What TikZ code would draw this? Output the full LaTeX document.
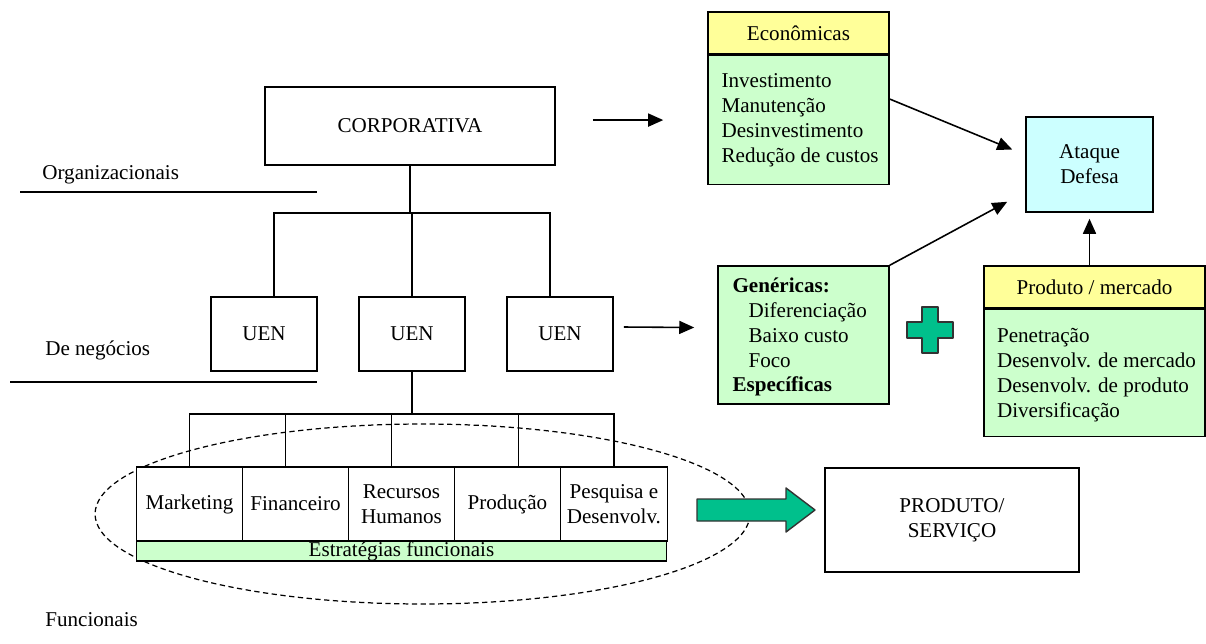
\documentclass[tikz,border=0pt]{standalone}
\usepackage{fontspec}
\setmainfont{Liberation Serif}
\usetikzlibrary{arrows, arrows.meta, positioning}
\definecolor{headyellow}{RGB}{255,255,153}
\definecolor{listgreen}{RGB}{204,255,204}
\definecolor{boxcyan}{RGB}{204,255,255}
\definecolor{seagreen}{RGB}{0,192,140}
\tikzset{
  box/.style={draw, line width=0.9pt, fill=white, inner sep=0pt, align=center},
  headbox/.style={box, fill=headyellow},
  listbox/.style={box, fill=listgreen},
  funcbox/.style={box, outer sep=0pt, minimum width=2.12cm, minimum height=1.48cm},
  listtext/.style={inner sep=0pt, align=left},
  level/.style={inner sep=0pt, anchor=west},
  link/.style={line width=1pt},
  pointer/.style={line width=0.9pt, -{Triangle[length=3mm,width=2.6mm]}},
  bigarrow/.style={draw=black!80, line width=0.8pt, fill=seagreen, line join=round}
}

\begin{document}
\begin{tikzpicture}[x=0.02cm, y=-0.02cm, font=\fontsize{12}{14.2}\selectfont]
        \useasboundingbox (0,0) rectangle (1206,643);

        \node[level] (org) at (42,175) {Organizacionais};
        \draw[link] (20,192) -- (317,192);
        \node[level] (neg) at (45,350) {De negócios};
        \draw[link] (10,382) -- (317,382);
        \node[level] (fun) at (45,620) {Funcionais};

        \node[box, minimum width=5.8cm, minimum height=1.56cm] (corp) at (410,126) {CORPORATIVA};
        \node[box, minimum width=2.12cm, minimum height=1.48cm] (uen1) at (264,334) {UEN};
        \node[box, minimum width=2.12cm, minimum height=1.48cm] (uen2) at (412,334) {UEN};
        \node[box, minimum width=2.12cm, minimum height=1.48cm] (uen3) at (560,334) {UEN};

        \coordinate (ubus) at (410,213);
        \draw[link] (corp.south) -- (ubus);
        \draw[link] ([xshift=0.2cm]uen1.north) |- (ubus) -| ([xshift=-0.2cm]uen3.north);
        \draw[link] (uen2.north) -- (uen2.north |- ubus);

        \draw[dash pattern=on 3pt off 2pt, line width=0.7pt] (422.5,514) ellipse [x radius=6.55cm, y radius=1.8cm];

        \node[funcbox] (mkt) at (189.5,504) {Marketing};
        \node[funcbox, right=0pt of mkt] (fin) {Financeiro};
        \node[funcbox, right=0pt of fin] (rh) {Recursos\\Humanos};
        \node[funcbox, right=0pt of rh] (prd) {Produção};
        \node[funcbox, right=0pt of prd, minimum width=2.14cm] (ped) {Pesquisa e\\Desenvolv.};
        \node[listbox, outer sep=0pt, anchor=north west, minimum width=10.6cm, text height=0.31cm, text depth=0.09cm] (estr) at (mkt.south west) {Estratégias funcionais};

        \coordinate (fbus) at (412,414);
        \draw[link] (uen2.south) -- (fbus);
        \draw[link] (mkt.north) |- (fbus) -| (ped.north);
        \draw[link] ([xshift=-0.2cm]fin.north) -- ++(0,-53);
        \draw[link] ([xshift=-0.2cm]rh.north) -- ++(0,-53);
        \draw[link] ([xshift=0.22cm]prd.north) -- ++(0,-53);

        \node[headbox, minimum width=3.62cm, minimum height=0.84cm] (econhead) at (798.5,33) {Econômicas};
        \node[listbox, anchor=north, minimum width=3.62cm, minimum height=2.58cm] (econ) at (econhead.south) {};
        \node[listtext, right=0.28cm of econ.west] (econtext) {Investimento\\Manutenção\\Desinvestimento\\Redução de custos};

        \node[box, fill=boxcyan, minimum width=2.54cm, minimum height=1.9cm] (ataque) at (1089.5,164.5) {Ataque\\Defesa};

        \node[listbox, minimum width=3.42cm, minimum height=2.76cm] (gen) at (803.5,335) {};
        \node[listtext, right=0.3cm of gen.west, yshift=-0.04cm] (gentext) {\textbf{Genéricas:}\\\hspace*{0.32cm}Diferenciação\\\hspace*{0.32cm}Baixo custo\\\hspace*{0.32cm}Foco\\\textbf{Específicas}};

        \node[headbox, minimum width=4.42cm, minimum height=0.84cm] (prodhead) at (1094.5,287) {Produto / mercado};
        \node[listbox, anchor=north, minimum width=4.42cm, minimum height=2.54cm] (prod) at (prodhead.south) {};
        \node[listtext, right=0.27cm of prod.west, yshift=-0.04cm] (prodtext) {Penetração\\Desenvolv. de mercado\\Desenvolv. de produto\\Diversificação};

        \node[box, minimum width=5.08cm, minimum height=2.08cm] (servico) at (952,520) {PRODUTO/\\SERVIÇO};

        \coordinate (corpout) at ([xshift=0.74cm]corp.east |- econ.west);
        \draw[pointer] (corpout) -- ([xshift=-0.88cm]econ.west);
        \draw[pointer] ([yshift=0.42cm]econ.east) -- ([xshift=-0.26cm, yshift=0.3cm]ataque.west);
        \draw[pointer] (gen.north east) -- ([xshift=-0.36cm, yshift=0.22cm]ataque.south west);
        \draw[pointer] (prodhead.north -| ataque.south) -- ([yshift=-0.12cm]ataque.south);
        \draw[pointer] ([xshift=0.2cm, yshift=0.14cm]uen3.east) -- ([xshift=-0.46cm, yshift=0.15cm]gen.west);

        \draw[bigarrow] (922,307) -- (938,307) -- (938,322) -- (953,322) -- (953,338) -- (938,338) -- (938,353) -- (922,353) -- (922,338) -- (907,338) -- (907,322) -- (922,322) -- cycle;
        \draw[bigarrow] (697,499) -- (786,499) -- (786,488) -- (815,510) -- (786,532) -- (786,521) -- (697,521) -- cycle;
      \end{tikzpicture}
\end{document}
